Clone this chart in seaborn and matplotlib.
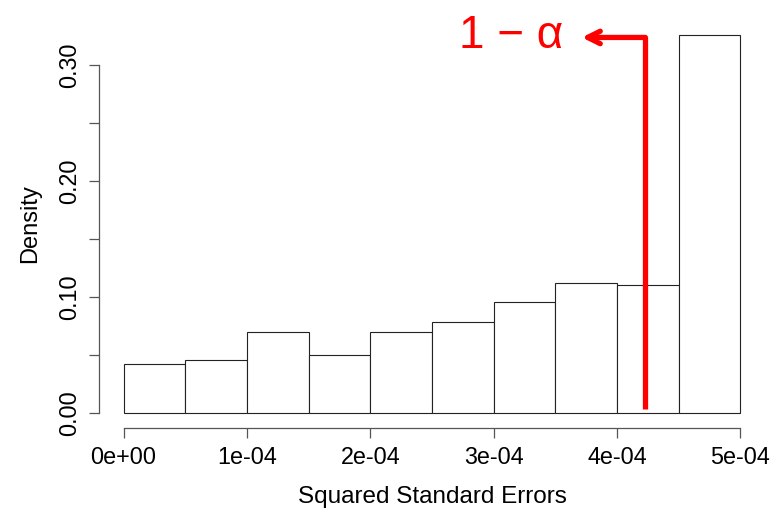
import numpy as np
import pandas as pd
import matplotlib
matplotlib.use("Agg")
import matplotlib.pyplot as plt
import seaborn as sns

# Data
bin_edges = [0.0, 0.5e-4, 1.0e-4, 1.5e-4, 2.0e-4, 2.5e-4, 3.0e-4, 3.5e-4, 4.0e-4, 4.5e-4, 5.0e-4]
densities = [0.042, 0.046, 0.070, 0.050, 0.070, 0.078, 0.096, 0.112, 0.110, 0.326]
x_ticks = [0.0, 1e-4, 2e-4, 3e-4, 4e-4, 5e-4]
x_tick_labels = ["0e+00", "1e-04", "2e-04", "3e-04", "4e-04", "5e-04"]
y_ticks = [0.0, 0.05, 0.10, 0.15, 0.20, 0.25, 0.30]
y_tick_labels = ["0.00", "", "0.10", "", "0.20", "", "0.30"]
cutoff = 4.23e-4          # 1 - alpha quantile marker
arrow_y = 0.324
arrow_tip = 3.715e-4
label_x = 3.14e-4
label_y = 0.315

sns.set_style("white")
plt.rcParams["font.family"] = ["Liberation Sans", "DejaVu Sans"]
plt.rcParams["text.color"] = "black"
plt.rcParams["axes.labelcolor"] = "black"
plt.rcParams["xtick.labelcolor"] = "black"
plt.rcParams["ytick.labelcolor"] = "black"

centers = [(a + b) / 2 for a, b in zip(bin_edges[:-1], bin_edges[1:])]
df = pd.DataFrame({"x": centers, "w": densities})

fig = plt.figure(figsize=(7.73, 5.08), dpi=100)
ax = fig.add_axes([0.128, 0.1575, 0.8617, 0.8031])

sns.histplot(data=df, x="x", weights="w", bins=bin_edges, stat="count",
             color="white", edgecolor="#222222", linewidth=0.8, alpha=1, ax=ax)

# R-like limits (4% padding)
xr = bin_edges[-1] - bin_edges[0]
ax.set_xlim(bin_edges[0] - 0.04 * xr, bin_edges[-1] + 0.04 * xr)
ymax = max(densities)
ax.set_ylim(-0.04 * ymax, ymax * 1.04)

ax.set_xticks(x_ticks)
ax.set_xticklabels(x_tick_labels, fontsize=16.8)
ax.set_yticks(y_ticks)
ax.set_yticklabels(y_tick_labels, fontsize=16.8, rotation=90, va="center")

for s in ["top", "right"]:
    ax.spines[s].set_visible(False)
ax.spines["left"].set_bounds(y_ticks[0], y_ticks[-1])
ax.spines["bottom"].set_bounds(x_ticks[0], x_ticks[-1])
for s in ["left", "bottom"]:
    ax.spines[s].set_color("#555555")
    ax.spines[s].set_linewidth(0.9)
ax.tick_params(axis="both", direction="out", length=7, width=0.9, color="#555555",
               left=True, bottom=True, pad=6)

ax.set_xlabel("Squared Standard Errors", fontsize=17.5, labelpad=12)
ax.set_ylabel("Density", fontsize=17, labelpad=12)

# red marker line and arrow
ax.plot([cutoff, cutoff], [0.003, arrow_y], color="red", lw=3.8, solid_capstyle="butt")
ax.annotate("", xy=(arrow_tip, arrow_y), xytext=(cutoff + 0.00001e-4, arrow_y),
            arrowprops=dict(arrowstyle="->,head_length=0.9,head_width=0.45",
                            color="red", lw=3.8, shrinkA=0, shrinkB=0))
ax.text(label_x, label_y, "1 \u2212 \u03b1", color="red", fontsize=33,
        ha="center", va="baseline")

fig.savefig("out.png", dpi=100)
